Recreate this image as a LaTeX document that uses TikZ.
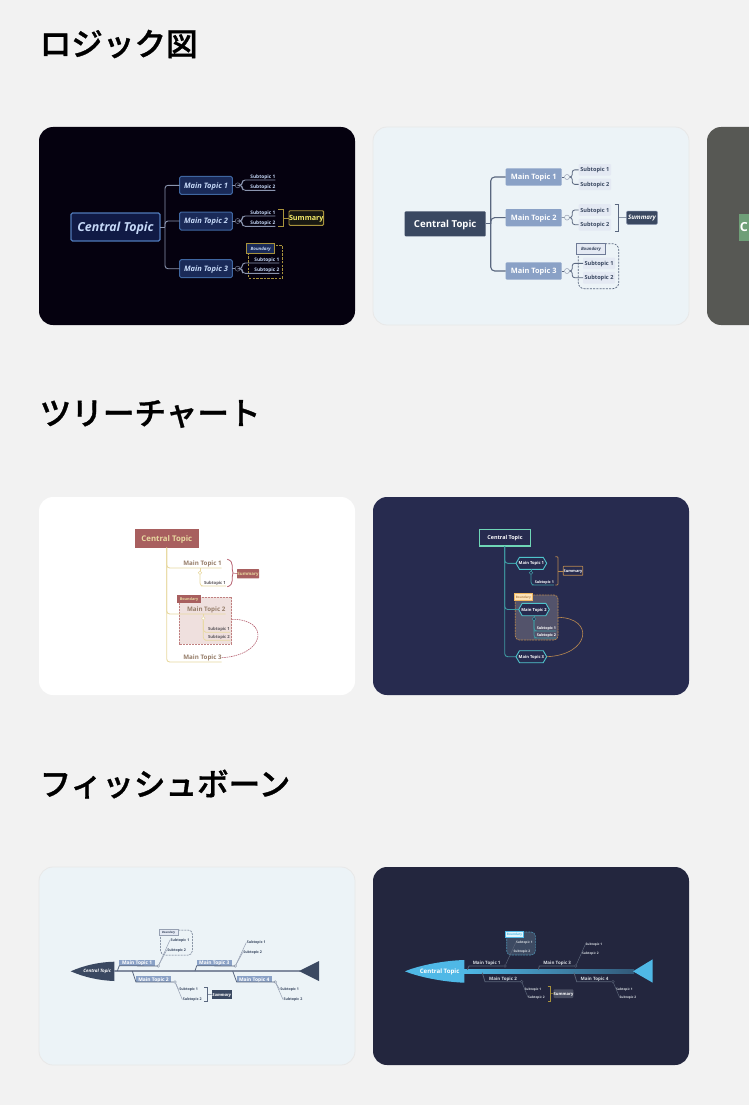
\documentclass[tikz,border=0pt]{standalone}
\usepackage{fontspec}
\setmainfont{Open Sans}
\newfontfamily\cjkf{Noto Sans CJK JP}[BoldFont={Noto Sans CJK JP Medium},BoldFeatures={FakeBold=1}]
\newcommand{\fz}[1]{\fontsize{#1}{#1}\selectfont}
\newcommand{\bx}[7]{%
  \pgfmathsetmacro\cxx{(#2+#4)/2}\pgfmathsetmacro\cyy{(#3+#5)/2}%
  \pgfmathsetmacro\wxx{#4-#2}\pgfmathsetmacro\hyy{#5-#3}%
  \node[inner sep=0pt,outer sep=0pt,align=center,text depth=0pt,minimum width=\wxx pt,minimum height=\hyy pt,#6] (#1) at (\cxx,\cyy) {#7};}
\definecolor{pageg}{HTML}{F2F2F2}
\definecolor{pale}{HTML}{ECF3F7}
\definecolor{night}{HTML}{05010F}
\definecolor{indigo}{HTML}{272B4F}
\definecolor{ink}{HTML}{23263E}
\definecolor{slate}{HTML}{3A4861}
\definecolor{steel}{HTML}{8AA1C6}
\definecolor{mist}{HTML}{E4E9F3}
\definecolor{slink}{HTML}{5A677F}
\definecolor{brick}{HTML}{A85F5F}
\definecolor{sand}{HTML}{E8D9A0}
\definecolor{rose}{HTML}{B45C6C}
\definecolor{teal1}{HTML}{3F9AA2}
\definecolor{teal2}{HTML}{4FC4CC}
\definecolor{umber}{HTML}{B8884F}
\definecolor{sky}{HTML}{4FB8E6}
\definecolor{gold}{HTML}{A8923C}
\definecolor{lblue}{HTML}{C5D8F7}
\definecolor{acf}{HTML}{101A45}
\definecolor{acd}{HTML}{4F79B8}
\definecolor{amf}{HTML}{1A2A58}
\definecolor{amd}{HTML}{3F66A0}
\definecolor{agl}{HTML}{8A94AE}
\definecolor{asy}{HTML}{F5EC6A}
\definecolor{asf}{HTML}{181812}
\definecolor{acg}{HTML}{6E768C}
\definecolor{bcg}{HTML}{96A0B2}
\definecolor{bsd}{HTML}{7884A0}
\definecolor{bbg}{HTML}{6E7A96}
\definecolor{c1t}{HTML}{967D69}
\definecolor{c2t}{HTML}{5A555A}
\definecolor{cbox}{HTML}{EFE0DE}
\definecolor{cbd}{HTML}{C08080}
\definecolor{d0d}{HTML}{6FD6B6}
\definecolor{dbf}{HTML}{FDE3B8}
\definecolor{dbl}{HTML}{F0B860}
\definecolor{dbox}{HTML}{53536B}
\definecolor{ecg}{HTML}{828CA0}
\definecolor{fgr}{HTML}{D7DCE1}
\definecolor{fln}{HTML}{586276}
\definecolor{fsf}{HTML}{4A4F63}
\definecolor{fbf}{HTML}{E1F5FC}
\definecolor{fbox}{HTML}{3D4A62}
\definecolor{fdash}{HTML}{4D8FAE}
\definecolor{thirdp}{HTML}{575854}
\definecolor{thirdn}{HTML}{6F9F78}
\tikzset{
  panel/.style={rounded corners=14pt,line width=.8pt},
  head/.style={anchor=west,inner sep=0pt,font={\cjkf\bfseries\fontsize{31.6}{32}\selectfont}},
  a0/.style={fill=acf,draw=acd,line width=1.3pt,rounded corners=1.5pt,text=lblue,font={\fz{12.4}\bfseries\itshape}},
  a1/.style={fill=amf,draw=amd,line width=1pt,rounded corners=1.5pt,text=lblue,font={\fz{7.5}\bfseries\itshape}},
  a2/.style={text=lblue,font={\fz{4.8}\bfseries}},
  alink/.style={draw=agl,line width=.9pt,rounded corners=3pt},
  asum/.style={fill=asf,draw=gold,line width=.9pt,rounded corners=1pt,text=asy,font={\fz{7.2}\bfseries}},
  abnd/.style={fill=amf,draw=gold,line width=1pt,text=lblue,font={\fz{4.4}\bfseries\itshape}},
  adash/.style={draw=gold,line width=1pt,dash pattern=on 2.5pt off 1.2pt},
  abr/.style={draw=gold,line width=.9pt},
  acirc/.style={circle,draw=acg,line width=.5pt,inner sep=0pt,minimum size=5pt},
  b0/.style={fill=slate,rounded corners=1pt,text=white,font={\fz{9.6}\bfseries}},
  b1/.style={fill=steel,rounded corners=1pt,text=white,font={\fz{7.4}\bfseries}},
  b2/.style={fill=mist,text=slate,rounded corners=1pt,font={\fz{5.6}\bfseries}},
  blink/.style={draw=slink,line width=1.1pt,rounded corners=4pt},
  bsub/.style={draw=slink,line width=.8pt,rounded corners=2.5pt},
  bcirc/.style={circle,draw=bcg,line width=.5pt,inner sep=0pt,minimum size=5pt,fill=pale},
  bsum/.style={fill=slate,rounded corners=1pt,draw=bsd,line width=.5pt,text=white,font={\fz{6.2}\bfseries\itshape}},
  bbnd/.style={fill=mist,draw=bbg,line width=.9pt,text=slate,font={\fz{4.4}\bfseries\itshape}},
  bdash/.style={draw=slink,line width=.7pt,dash pattern=on 2pt off 1.2pt,rounded corners=6pt},
  c0/.style={fill=brick,text=sand,font={\fz{7.8}\bfseries}},
  c1/.style={text=c1t,font={\fz{6.2}\bfseries}},
  c2/.style={text=c2t,font={\fz{4.2}\bfseries}},
  clink/.style={draw=sand,line width=.9pt,rounded corners=3pt},
  ccirc/.style={circle,draw=sand,line width=.5pt,inner sep=0pt,minimum size=3.5pt,fill=white},
  csum/.style={fill=brick,text=sand,rounded corners=.5pt,font={\fz{4.4}\bfseries}},
  cbnd/.style={fill=brick,text=sand,font={\fz{3.8}\bfseries}},
  crel/.style={draw=rose,line width=.6pt,dash pattern=on 1.5pt off .8pt},
  d0/.style={fill=indigo,draw=d0d,line width=1.5pt,text=white,font={\fz{5.4}\bfseries}},
  d1/.style={text=white,font={\fz{4.1}\bfseries}},
  d2/.style={text=white,font={\fz{3.7}\bfseries}},
  hexline/.style={draw=teal2,fill=indigo,line width=.9pt},
  dlink/.style={draw=teal1,line width=.9pt,rounded corners=3pt},
  dcirc/.style={circle,draw=teal1,line width=.5pt,inner sep=0pt,minimum size=3.5pt,fill=indigo},
  dsum/.style={draw=umber,fill=indigo,line width=.8pt,rounded corners=.5pt,text=white,font={\fz{3.9}\bfseries}},
  dbnd/.style={fill=dbf,draw=dbl,line width=.5pt,text=umber,font={\fz{3.1}\bfseries}},
  drel/.style={draw=umber,line width=.6pt},
  e0/.style={text=white,font={\fz{4.5}\bfseries\itshape}},
  e1/.style={fill=steel,text=white,font={\fz{4.9}\bfseries}},
  e2/.style={text=slate,font={\fz{3.6}\bfseries}},
  elink/.style={draw=slink,line width=.8pt},
  esub/.style={draw=bcg,line width=.5pt},
  ecirc/.style={circle,draw=ecg,line width=.4pt,inner sep=0pt,minimum size=2.6pt,fill=pale},
  esum/.style={fill=slate,text=white,font={\fz{4.2}\bfseries\itshape}},
  ebnd/.style={fill=mist,draw=bcg,line width=.6pt,text=slate,font={\fz{2.9}\bfseries\itshape}},
  f0/.style={text=white,font={\fz{6.1}\bfseries}},
  f1/.style={text=fgr,font={\fz{4.5}\bfseries}},
  f2/.style={text=fgr,font={\fz{3.2}\bfseries}},
  flink/.style={draw=fln,line width=.8pt},
  fcirc/.style={circle,draw=fln,line width=.4pt,inner sep=0pt,minimum size=2.8pt,fill=ink},
  fsum/.style={fill=fsf,rounded corners=1pt,text=white,font={\fz{4.1}\bfseries}},
  fbnd/.style={fill=fbf,draw=sky,line width=.5pt,text=sky,font={\fz{3.1}\bfseries}},
}
\newcommand{\hexpath}[4]{\pgfmathsetmacro\cyy{(#2+#4)/2}\pgfmathsetmacro\xa{#1+3.5}\pgfmathsetmacro\xb{#3-3.5}%
  \draw[hexline] (#1,\cyy) -- (\xa,#2) -- (\xb,#2) -- (#3,\cyy) -- (\xb,#4) -- (\xa,#4) -- cycle;}
\begin{document}
\begin{tikzpicture}[x=1pt,y=-1pt]
\path[clip] (0,0) rectangle (749,1105);
\fill[pageg] (0,0) rectangle (749,1105);
\node[head] (h1) at (39.5,44) {ロジック図};
\node[head] (h2) at (39.5,414) {ツリーチャート};
\node[head] (h3) at (39.5,784) {フィッシュボーン};
% panels
\fill[panel,night] (39,127) rectangle (355,325);
\filldraw[panel,fill=pale,draw=pageg!96!black] (373,127) rectangle (689,325);
\fill[panel,thirdp] (707,127) rectangle (800,325);
\fill[panel,white] (39,497) rectangle (355,695);
\fill[panel,indigo] (373,497) rectangle (689,695);
\filldraw[panel,fill=pale,draw=pageg!96!black] (39,867) rectangle (355,1065);
\fill[panel,ink] (373,867) rectangle (689,1065);

% ---------- panel 1
\bx{a}{71}{213}{160}{241}{a0}{Central Topic}
\bx{am1}{179.7}{176.3}{232.3}{194.3}{a1}{Main Topic 1}
\bx{am2}{179.7}{212}{232.3}{230}{a1}{Main Topic 2}
\bx{am3}{179.7}{259.7}{232.3}{277.7}{a1}{Main Topic 3}
\coordinate (aj) at (165,227);
\draw[alink] (a.east) -- (aj);
\draw[alink] (am1.west) -| (aj) |- (am3.west);
\draw[alink] (aj) |- (am2.west);
\node[acirc] (ac1) at (237.7,185.3) {};
\node[acirc] (ac2) at (237.7,221) {};
\node[acirc] (ac3) at (237.7,268.7) {};
\draw[alink,line width=.5pt] (am1.east) -- (ac1);
\draw[alink,line width=.5pt] (am2.east) -- (ac2);
\draw[alink,line width=.5pt] (am3.east) -- (ac3);
\draw[adash] (248.3,245.3) rectangle (282.3,278);
\bx{as11}{250.7}{174}{275}{180}{a2}{Subtopic 1}
\bx{as12}{250.7}{184}{275}{190.3}{a2}{Subtopic 2}
\bx{as21}{250.7}{210}{275}{216}{a2}{Subtopic 1}
\bx{as22}{250.7}{220}{275}{226.3}{a2}{Subtopic 2}
\bx{as31}{254.7}{257}{279}{263}{a2}{Subtopic 1}
\bx{as32}{254.7}{267}{279}{273.3}{a2}{Subtopic 2}
\foreach \c/\s in {ac1/as11,ac1/as12,ac2/as21,ac2/as22,ac3/as31,ac3/as32}{
  \draw[alink] (\c.east) -- ++(1.8,0) |- (\s.south west) -- (\s.south east);}
\draw[abr] (278.3,209.3) -- (283,209.3) -- (283,226.3) -- (278.3,226.3);
\bx{asm}{289.3}{210.7}{323.3}{225.3}{asum}{Summary}
\coordinate (abk) at (283,218);
\draw[abr] (abk) -- (asm.west);
\bx{abd}{246.7}{243.3}{274.7}{253.7}{abnd}{Boundary}

% ---------- panel 2
\bx{b}{404.7}{211.3}{485.7}{236.3}{b0}{Central Topic}
\bx{bm1}{505.7}{168.3}{561.7}{185.7}{b1}{Main Topic 1}
\bx{bm2}{505.7}{209}{561.7}{226.3}{b1}{Main Topic 2}
\bx{bm3}{505.7}{262.3}{561.7}{279.7}{b1}{Main Topic 3}
\coordinate (bj) at (490.7,223.8);
\draw[blink] (b.east) -- (bj);
\draw[blink] (bm1.west) -| (bj) |- (bm3.west);
\draw[blink] (bj) |- (bm2.west);
\node[bcirc] (bc1) at (567,177) {};
\node[bcirc] (bc2) at (567,217.6) {};
\node[bcirc] (bc3) at (567,271) {};
\draw[bsub,line width=.5pt] (bm1.east) -- (bc1);
\draw[bsub,line width=.5pt] (bm2.east) -- (bc2);
\draw[bsub,line width=.5pt] (bm3.east) -- (bc3);
\draw[bdash] (578.3,243.7) rectangle (618.7,288.7);
\bx{bs11}{578.7}{164}{611}{175.7}{b2}{Subtopic 1}
\bx{bs12}{578.7}{178.5}{611}{190.2}{b2}{Subtopic 2}
\bx{bs21}{578.7}{204.2}{611}{215.9}{b2}{Subtopic 1}
\bx{bs22}{578.7}{218.8}{611}{230.5}{b2}{Subtopic 2}
\bx{bs31}{583}{257.5}{615}{269.2}{b2}{Subtopic 1}
\bx{bs32}{583}{271.9}{615}{283.6}{b2}{Subtopic 2}
\foreach \c/\s in {bc1/bs11,bc1/bs12,bc2/bs21,bc2/bs22,bc3/bs31,bc3/bs32}{
  \draw[bsub] (\c.east) -- ++(2.5,0) |- (\s.west);}
\draw[bsub,line width=.7pt,rounded corners=0pt] (614.7,204.3) -- (618.7,204.3) -- (618.7,231.3) -- (614.7,231.3);
\bx{bsm}{626.7}{211}{657.3}{224.3}{bsum}{Summary}
\coordinate (bbk) at (618.7,217.6);
\draw[bsub,line width=.4pt] (bbk) -- (bsm.west);
\bx{bbd}{576.3}{243}{605.7}{254}{bbnd}{Boundary}

% third panel stub
\bx{g}{738.7}{213.7}{770}{240.7}{fill=thirdn,text=white,font={\fz{12.5}\bfseries},text width=29pt,align=left}{C}

% ---------- panel 3
\fill[cbox] (179,597.3) rectangle (231.7,644);
\draw[crel,draw=cbd,line width=.8pt,dash pattern=on 2pt off 1pt] (179,597.3) rectangle (231.7,644);
\bx{c}{134.7}{529}{199}{547.7}{c0}{Central Topic}
\bx{cm1}{178.3}{559}{221.7}{568}{c1}{\hspace*{5pt}Main Topic 1}
\bx{cm2}{181.7}{605}{225.7}{614}{c1}{\hspace*{5pt}Main Topic 2}
\bx{cm3}{178.3}{653}{221.7}{662}{c1}{\hspace*{5pt}Main Topic 3}
\draw[clink] (c.south -| 166.7,0) -- (166.7,568) -- (cm1.south west) -- (cm1.south east);
\draw[clink] (c.south -| 166.7,0) -- (166.7,614) -- (cm2.south west) -- (cm2.south east);
\draw[clink] (c.south -| 166.7,0) -- (166.7,662) -- (cm3.south west) -- (cm3.south east);
\node[ccirc] (cc1) at (200,572.7) {};
\node[ccirc] (cc2) at (203.3,618.3) {};
\draw[clink,line width=.6pt] (cm1.south -| cc1) -- (cc1);
\draw[clink,line width=.6pt] (cm2.south -| cc2) -- (cc2);
\bx{cs11}{204}{579}{226}{586}{c2}{Subtopic 1}
\bx{cs21}{208}{626}{230}{632.3}{c2}{Subtopic 1}
\bx{cs22}{208}{634}{230}{640.3}{c2}{Subtopic 2}
\draw[clink,line width=.7pt] (cc1.south) |- (cs11.south west) -- (cs11.south east);
\draw[clink,line width=.7pt] (cc2.south) |- (cs21.south west) -- (cs21.south east);
\draw[clink,line width=.7pt] (cc2.south) |- (cs22.south west) -- (cs22.south east);
\bx{csm}{237}{569}{259}{578.3}{csum}{Summary}
\coordinate (cbk) at (233,573);
\draw[rose,line width=.8pt] (227.3,559.3) .. controls (235,561) and (231,570) .. (cbk) .. controls (231,576) and (235,585) .. (227.3,586.7);
\draw[rose,line width=.5pt] (cbk) -- (csm.west);
\bx{cbx}{177.3}{595.3}{200.7}{603}{cbnd}{Boundary}
\coordinate (crs) at (222,657.7);
\coordinate (cre) at (232,619.3);
\draw[crel] (crs) .. controls (266,655) and (270,619) .. (cre);

% ---------- panel 4
\draw[fill=dbox,draw=umber,line width=.7pt,dash pattern=on 2pt off .8pt,rounded corners=4pt] (515.3,595) rectangle (558,640);
\bx{d}{479.3}{529.3}{530.7}{546}{d0}{Central Topic}
\draw[dlink] (504.7,546) -- (504.7,563.3) -- (516,563.3);
\draw[dlink] (504.7,546) -- (504.7,609.5) -- (518.7,609.5);
\draw[dlink] (504.7,546) -- (504.7,656.7) -- (516,656.7);
\hexpath{516}{557.3}{546.7}{569.3}
\hexpath{518.7}{603.3}{549.3}{615.7}
\hexpath{516}{650.7}{546.7}{662.7}
\bx{dm1}{516}{557.3}{546.7}{569.3}{d1}{Main Topic 1}
\bx{dm2}{518.7}{603.3}{549.3}{615.7}{d1}{Main Topic 2}
\bx{dm3}{516}{650.7}{546.7}{662.7}{d1}{Main Topic 3}
\node[dcirc] (dc1) at (531,572.7) {};
\node[dcirc] (dc2) at (534,619) {};
\draw[dlink,line width=.5pt] (dm1.south -| dc1) -- (dc1);
\draw[dlink,line width=.5pt] (dm2.south -| dc2) -- (dc2);
\bx{ds11}{536}{579}{552.7}{585}{d2}{Subtopic 1}
\bx{ds21}{538}{625.5}{555}{631}{d2}{Subtopic 1}
\bx{ds22}{538}{632.5}{555}{638}{d2}{Subtopic 2}
\draw[dlink,line width=.7pt] (dc1.south) |- (ds11.south west) -- (ds11.south east);
\draw[dlink,line width=.7pt] (dc2.south) -- ++(0,2) |- (ds21.south west) -- (ds21.south east);
\draw[dlink,line width=.7pt] (dc2.south) -- ++(0,2) |- (ds22.south west) -- (ds22.south east);
\draw[drel,line width=.7pt,rounded corners=1pt] (555.3,556.7) -- (558,556.7) -- (558,585) -- (555.3,585);
\bx{dsm}{563.3}{566.3}{582.7}{575.3}{dsum}{Summary}
\coordinate (dbk) at (558,570.8);
\draw[drel] (dbk) -- (dsm.west);
\bx{dbx}{514}{593.7}{532.7}{600.7}{dbnd}{Boundary}
\coordinate (drs) at (546.7,656.7);
\coordinate (dre) at (558,617.3);
\draw[drel] (drs) .. controls (590,655) and (595,618) .. (dre);

% ---------- panel 5
\fill[slate] (70.7,971.3) .. controls (85,965) and (100,962) .. (114.3,961.7) -- (114.3,981) .. controls (100,980.5) and (85,977.5) .. (70.7,971.3) -- cycle;
\bx{e}{80}{966}{114.3}{976}{e0}{Central Topic}
\coordinate (et) at (300,971);
\draw[elink,line width=1.2pt,draw=ecg] (e.east) -- (et);
\fill[slate] (et) ++(-1,0) -- (319,961) -- (319,981) -- cycle;
\draw[esub,dash pattern=on 2pt off 1pt,draw=slink,rounded corners=4pt] (160.7,930) rectangle (192.3,955);
\bx{em1}{119.3}{960}{155}{965.7}{e1}{Main Topic 1}
\bx{em3}{196.7}{960}{232}{965.7}{e1}{Main Topic 3}
\bx{em2}{136}{976.3}{171}{982}{e1}{Main Topic 2}
\bx{em4}{236.7}{976.3}{271.7}{982}{e1}{Main Topic 4}
\node[ecirc] (ec1) at (158.3,966) {};
\node[ecirc] (ec3) at (235.3,966) {};
\node[ecirc] (ec2) at (175,982) {};
\node[ecirc] (ec4) at (275.3,982) {};
\coordinate (es1) at (117.3,971);\coordinate (es3) at (195,971);\coordinate (es2) at (132.3,971);\coordinate (es4) at (232.7,971);
\draw[elink] (es1) -- (em1.south west) -- (ec1);
\draw[elink] (es3) -- (em3.south west) -- (ec3);
\draw[elink] (es2) -- (em2.south west) -- (ec2);
\draw[elink] (es4) -- (em4.south west) -- (ec4);
\bx{es11}{170}{936.5}{190}{943.5}{e2}{Subtopic 1}
\bx{es12}{166.7}{946.5}{186.7}{953.5}{e2}{Subtopic 2}
\bx{es31}{246.3}{939}{266.3}{946}{e2}{Subtopic 1}
\bx{es32}{242.7}{949}{262.7}{956}{e2}{Subtopic 2}
\bx{es21}{178.7}{986}{198.7}{993}{e2}{Subtopic 1}
\bx{es22}{182.3}{996}{202.3}{1003}{e2}{Subtopic 2}
\bx{es41}{279.7}{986}{299.7}{993}{e2}{Subtopic 1}
\bx{es42}{283}{996}{303}{1003}{e2}{Subtopic 2}
\draw[esub] (ec1) -- (es11.west);
\draw[esub] (ec1) -- (es12.west);
\draw[esub] (ec3) -- (es31.west);
\draw[esub] (ec3) -- (es32.west);
\draw[esub] (ec2) -- (es21.west);
\draw[esub] (ec2) -- (es22.west);
\draw[esub] (ec4) -- (es41.west);
\draw[esub] (ec4) -- (es42.west);
\draw[elink,line width=.6pt] (204.3,987.3) -- (207.3,987.3) -- (207.3,1001.7) -- (204.3,1001.7);
\bx{esm}{211.7}{990}{231.7}{999.3}{esum}{Summary}
\coordinate (ebk) at (207.3,994.6);
\draw[elink,line width=.5pt] (ebk) -- (esm.west);
\bx{ebx}{159}{929}{178.3}{935.7}{ebnd}{Boundary}

% ---------- panel 6
\draw[fill=fbox,draw=fdash,line width=.6pt,dash pattern=on 2pt off .8pt,rounded corners=4pt] (506.7,932) rectangle (535.3,955);
\fill[sky] (405,971.3) .. controls (420,965) and (445,960.5) .. (464.3,960) -- (464.3,982.7) .. controls (445,982) and (420,977.5) .. (405,971.3) -- cycle;
\bx{f}{415}{964}{464.3}{978.6}{f0}{Central Topic}
\coordinate (ft) at (634,971.3);
\shade[left color=sky,middle color=sky!80!ink,right color=sky!35!ink] (464,969.6) rectangle (634,973);
\fill[sky] (ft) ++(-1,0) -- (652.7,959.3) -- (652.7,982.7) -- cycle;
\bx{fm1}{469}{959}{504.3}{966}{f1}{Main Topic 1}
\bx{fm3}{539.3}{959}{575}{966}{f1}{Main Topic 3}
\bx{fm2}{485}{975}{521}{981.7}{f1}{Main Topic 2}
\bx{fm4}{576.7}{975}{612.3}{981.7}{f1}{Main Topic 4}
\node[fcirc] (fc1) at (505,966) {};
\node[fcirc] (fc3) at (575.7,966) {};
\node[fcirc] (fc2) at (521.7,981.7) {};
\node[fcirc] (fc4) at (613,981.7) {};
\coordinate (fs1) at (467.3,970);\coordinate (fs3) at (538.3,970);\coordinate (fs2) at (482.3,972.7);\coordinate (fs4) at (574,972.7);
\draw[flink] (fs1) -- (fm1.south west) -- (fc1);
\draw[flink] (fs3) -- (fm3.south west) -- (fc3);
\draw[flink] (fs2) -- (fm2.south west) -- (fc2);
\draw[flink] (fs4) -- (fm4.south west) -- (fc4);
\bx{fs11}{516}{939}{533}{945}{f2}{Subtopic 1}
\bx{fs12}{513.5}{948}{530.5}{954}{f2}{Subtopic 2}
\bx{fs31}{585.5}{941}{602.5}{947}{f2}{Subtopic 1}
\bx{fs32}{582}{950.3}{599}{956.3}{f2}{Subtopic 2}
\bx{fs21}{524.5}{986}{541.5}{992}{f2}{Subtopic 1}
\bx{fs22}{528}{994.3}{545}{1000.3}{f2}{Subtopic 2}
\bx{fs41}{616}{986}{633}{992}{f2}{Subtopic 1}
\bx{fs42}{619.5}{994.3}{636.5}{1000.3}{f2}{Subtopic 2}
\draw[flink,line width=.5pt] (fc1) -- (fs11.west);
\draw[flink,line width=.5pt] (fc3) -- (fs31.west);
\draw[flink,line width=.5pt] (fc2) -- (fs22.west);
\draw[flink,line width=.5pt] (fc4) -- (fs42.west);
\draw[draw=gold,line width=.8pt] (547.7,986.7) -- (550.3,986.7) -- (550.3,1001.7) -- (547.7,1001.7);
\bx{fsm}{554.3}{989.3}{572.7}{998}{fsum}{Summary}
\coordinate (fbk) at (550.3,993.7);
\draw[draw=gold,line width=.5pt] (fbk) -- (fsm.west);
\bx{fbx}{505.3}{931}{523.7}{937.3}{fbnd}{Boundary}
\end{tikzpicture}
\end{document}
